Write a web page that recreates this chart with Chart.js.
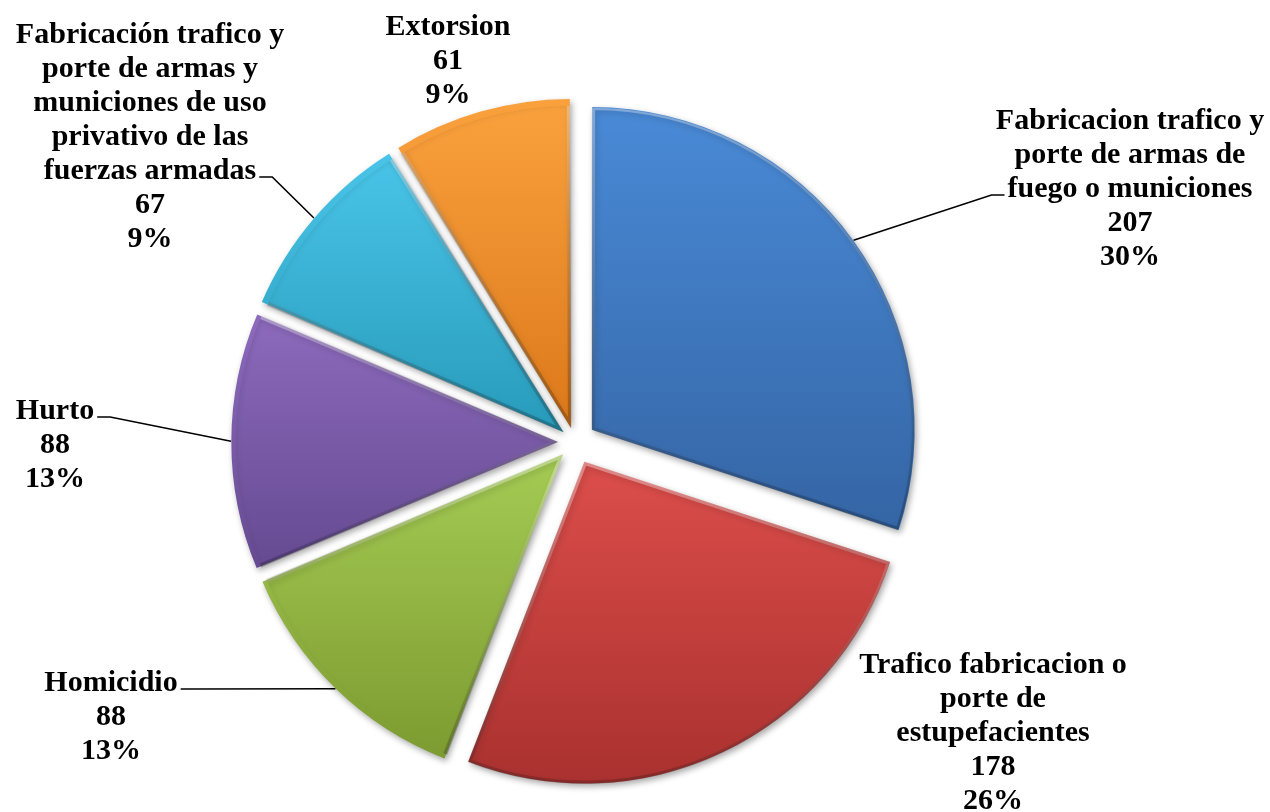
<!DOCTYPE html>
<html>
<head>
<meta charset="utf-8">
<script src="https://cdn.jsdelivr.net/npm/chart.js"></script>
<style>
  html, body { margin: 0; padding: 0; background: #fff; }
  #wrap { width: 1270px; height: 812px; }
</style>
</head>
<body>
<div id="wrap"><canvas id="pieChart"></canvas></div>
<script>
// data
const categories = [
    ['Fabricacion trafico y', 'porte de armas de', 'fuego o municiones'],
    ['Trafico fabricacion o', 'porte de', 'estupefacientes'],
    ['Homicidio'],
    ['Hurto'],
    ['Fabricación trafico y', 'porte de armas y', 'municiones de uso', 'privativo de las', 'fuerzas armadas'],
    ['Extorsion']
];
const values = [207, 178, 88, 88, 67, 61];
const percentLabels = ['30%', '26%', '13%', '13%', '9%', '9%'];

const total = values.reduce((a, b) => a + b, 0);

// look
const topColors = ['#4a8bd8', '#d94c49', '#a3c952', '#8d6abd', '#4ac6ea', '#fba33e'];
const bottomColors = ['#3566a6', '#a62f2d', '#7b992f', '#654a91', '#2a9dbd', '#de7b1d'];
const EXPLODE = 22;   // px each slice is pulled out
const RADIUS = 322;
const LINE_H = 34;

// where each label block sits (center x, first baseline) and where its leader leaves
const labelPos = [
    { x: 1130, y: 129, leader: { line: 2, side: 'left' } },
    { x: 993, y: 673 },
    { x: 111, y: 691, leader: { line: 0, side: 'right' } },
    { x: 55, y: 419, leader: { line: 0, side: 'right' } },
    { x: 150, y: 43, leader: { line: 4, side: 'right' } },
    { x: 448, y: 35 }
];

function sliceAngles(i) {
    const before = values.slice(0, i).reduce((a, b) => a + b, 0);
    const a0 = before / total * 2 * Math.PI - Math.PI / 2;
    const a1 = (before + values[i]) / total * 2 * Math.PI - Math.PI / 2;
    return [a0, a1];
}

function sliceGradient(c, fromCols, toCols) {
    const i = c.dataIndex;
    const area = c.chart.chartArea;
    if (!area) return fromCols[i];
    const cy = (area.top + area.bottom) / 2;
    const [a0, a1] = sliceAngles(i);
    const mid = (a0 + a1) / 2;
    const oy = cy + Math.sin(mid) * EXPLODE;
    const ys = [oy, oy + Math.sin(a0) * RADIUS, oy + Math.sin(a1) * RADIUS];
    if (a0 <= -Math.PI / 2 + 1e-6 || a1 >= 1.5 * Math.PI - 1e-6) ys.push(oy - RADIUS);
    if (a0 <= Math.PI / 2 && a1 >= Math.PI / 2) ys.push(oy + RADIUS);
    const g = c.chart.ctx.createLinearGradient(0, Math.min(...ys), 0, Math.max(...ys));
    g.addColorStop(0, fromCols[i]);
    g.addColorStop(1, toCols[i]);
    return g;
}

const shadowPlugin = {
    id: 'sliceShadow',
    beforeDatasetsDraw(chart) {
        const c = chart.ctx;
        c.save();
        c.shadowColor = 'rgba(0,0,0,0.35)';
        c.shadowBlur = 6;
        c.shadowOffsetX = 2;
        c.shadowOffsetY = 3;
    },
    afterDatasetsDraw(chart) {
        chart.ctx.restore();
    }
};

const labelPlugin = {
    id: 'sliceLabels',
    afterDraw(chart) {
        const ctx = chart.ctx;
        const arcs = chart.getDatasetMeta(0).data;
        ctx.save();
        ctx.font = 'bold 30px "Liberation Serif"';
        ctx.textAlign = 'center';
        ctx.textBaseline = 'alphabetic';
        ctx.fillStyle = '#000';
        ctx.strokeStyle = '#000';
        ctx.lineWidth = 1.6;
        arcs.forEach((arc, i) => {
            const L = labelPos[i];
            const lines = categories[i].concat([String(values[i]), percentLabels[i]]);
            lines.forEach((t, k) => ctx.fillText(t, L.x, L.y + k * LINE_H));
            if (!L.leader) return;
            const k = L.leader.line;
            const w = ctx.measureText(lines[k]).width;
            const y = L.y + k * LINE_H - 2;
            const dir = L.leader.side === 'right' ? 1 : -1;
            const x0 = L.x + dir * (w / 2 + 3);
            const x1 = x0 + dir * 13;
            const mid = (arc.startAngle + arc.endAngle) / 2;
            const rr = arc.outerRadius + EXPLODE;
            ctx.beginPath();
            ctx.moveTo(x0, y);
            ctx.lineTo(x1, y);
            ctx.lineTo(arc.x + Math.cos(mid) * rr, arc.y + Math.sin(mid) * rr);
            ctx.stroke();
        });
        ctx.restore();
    }
};

new Chart(document.getElementById('pieChart').getContext('2d'), {
    type: 'pie',
    data: {
        labels: categories,
        datasets: [{
            data: values,
            backgroundColor: c => sliceGradient(c, topColors, bottomColors),
            borderColor: c => sliceGradient(c,
                values.map(() => 'rgba(255,255,255,0.35)'),
                values.map(() => 'rgba(0,0,0,0.22)')),
            borderWidth: 3,
            borderAlign: 'inner',
            radius: RADIUS,
            // chart.js moves an arc by offset/4 * (1 + fix), undo that so every slice moves EXPLODE px
            offset: c => {
                const circ = values[c.dataIndex] / total * 2 * Math.PI;
                const fix = 1 - Math.sin(Math.min(Math.PI, circ));
                return 4 * EXPLODE / (1 + fix);
            },
            hoverOffset: 0
        }]
    },
    options: {
        responsive: true,
        maintainAspectRatio: false,
        animation: false,
        events: [],
        layout: { padding: { left: 0, right: 120, top: 100, bottom: 28 } },
        plugins: {
            legend: { display: false },
            tooltip: { enabled: false }
        }
    },
    plugins: [shadowPlugin, labelPlugin]
});
</script>
</body>
</html>
